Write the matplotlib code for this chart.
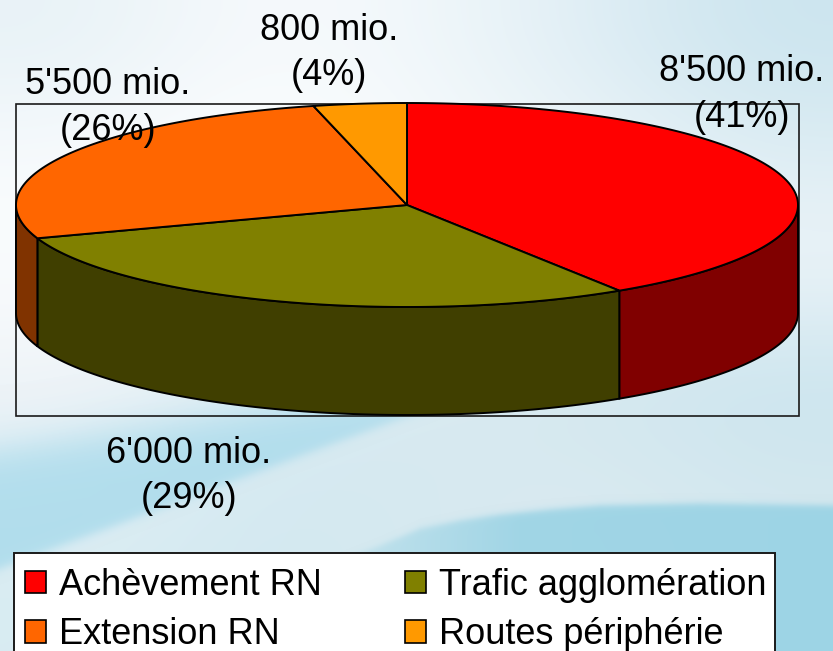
import numpy as np
import matplotlib
matplotlib.use("Agg")
import matplotlib.pyplot as plt
from matplotlib.colors import to_rgb
from matplotlib.patches import Polygon, Patch, Rectangle

plt.rcParams['font.family'] = ['Liberation Sans', 'DejaVu Sans']

categories = ["Achèvement RN", "Trafic agglomération", "Extension RN", "Routes périphérie"]
values = [8500, 6000, 5500, 800]
top_colors = ["#ff0000", "#808000", "#ff6600", "#ff9900"]
side_colors = ["#800000", "#403f00", "#803300", "#804d00"]
label_pos = [(742, 94.5), (189, 476), (108, 107.5), (329, 53)]

# coarse colour grid for the backdrop
bg_rows = [
    ["#e8f2f7", "#f7fafc", "#f2f8fb", "#e0eef5", "#cce5ef"],
    ["#f8fbfd", "#ffffff", "#f7fbfc", "#eff6f9", "#dfeef4"],
    ["#fafcfd", "#fbfdfe", "#f3f8fb", "#ecf4f8", "#edf4f8"],
    ["#f0f4f8", "#e0eef5", "#d8eaf1", "#d3e7ee", "#c9e4ee"],
    ["#e0eff5", "#d3e9f1", "#d6e9f0", "#dbebf1", "#d4e8ef"],
    ["#d8ecf2", "#d3e9f1", "#d6e9f0", "#dbebf1", "#d4e8ef"],
]

# pie geometry in pixels
cx, cy = 407, 205
rx, ry = 391, 102
depth = 108
fs = 26


def ellipse_pts(a0, a1, dy=0):
    # angles run clockwise from the top of the ellipse
    t = np.radians(np.linspace(a0, a1, 200))
    return np.column_stack([cx + rx * np.sin(t), cy - ry * np.cos(t) + dy])


def soft_layer(color, alpha):
    layer = np.zeros(alpha.shape + (4,))
    layer[..., :3] = to_rgb(color)
    layer[..., 3] = alpha
    return layer


total = sum(values)
starts = np.cumsum([0] + values[:-1]) / total * 360
ends = np.cumsum(values) / total * 360

fig = plt.figure(figsize=(8.33, 6.51), dpi=100)
ax = fig.add_axes([0, 0, 1, 1])

grid = np.array([[to_rgb(c) for c in row] for row in bg_rows])
ax.imshow(grid, extent=(0, 833, 651, 0), aspect='auto', interpolation='bicubic', zorder=0)

yy, xx = np.mgrid[0:651, 0:833]

# blue swoosh at the lower left
upper = 450 - xx * 0.15
line = 553 - (xx - 40) * 0.375
swoosh = (0.5 + 0.5 * np.tanh((yy - upper) / 24)) * (0.5 + 0.5 * np.tanh((line - yy) / 6))
ax.imshow(soft_layer("#addcec", swoosh * 0.9), extent=(0, 833, 651, 0), aspect='auto', zorder=0.1)

# lower band, its top edge is a shallow arc that fades out to the left
arc = np.interp(xx, [0, 300, 340, 380, 420, 460, 500, 550, 600, 700, 833],
                [660, 575, 560, 545, 528, 520, 514, 509, 505, 503, 505])
fade = np.clip((xx - 280) / 240, 0, 1) ** 0.8
band = (0.5 + 0.5 * np.tanh((yy - arc) / 4)) * fade * (0.85 + 0.15 * xx / 833)
ax.imshow(soft_layer("#9dd4e5", band), extent=(0, 833, 651, 0), aspect='auto', zorder=0.2)

ax.set_xlim(0, 833)
ax.set_ylim(651, 0)
ax.axis('off')

# plot area frame
ax.add_patch(Rectangle((16, 104), 783, 312, fill=False, ec='#1a1a1a', lw=1.2, zorder=1))

# front wall of the disc, only the part facing the viewer
for a0, a1, c in zip(starts, ends, side_colors):
    s0, s1 = max(a0, 90), min(a1, 270)
    if s1 <= s0:
        continue
    wall = np.vstack([ellipse_pts(s0, s1), ellipse_pts(s0, s1, depth)[::-1]])
    ax.add_patch(Polygon(wall, closed=True, fc=c, ec='black', lw=1.4, zorder=2))

# top face
for a0, a1, c in zip(starts, ends, top_colors):
    face = np.vstack([[cx, cy], ellipse_pts(a0, a1)])
    ax.add_patch(Polygon(face, closed=True, fc=c, ec='black', lw=1.4, zorder=3))

for v, (x, y) in zip(values, label_pos):
    txt = f"{v:,}".replace(",", "'") + " mio.\n" + f"({v / total * 100:.0f}%)"
    ax.text(x, y, txt, ha='center', va='center', fontsize=fs, color='black',
            linespacing=1.39, zorder=5)

# legend box runs off the bottom edge
ax.add_patch(Rectangle((14, 553), 761, 120, fc='white', ec='#1a1a1a', lw=1.4, zorder=6))
handles = [Patch(fc=c, ec='black', lw=1.2) for c in top_colors]
order = [0, 2, 1, 3]
leg = ax.legend([handles[i] for i in order], [categories[i] for i in order],
                ncol=2, loc='upper left', bbox_to_anchor=(14, 557),
                bbox_transform=ax.transData, fontsize=fs, frameon=False,
                borderaxespad=0, borderpad=0.3, handlelength=0.58, handleheight=0.58,
                handletextpad=0.36, columnspacing=2.3, labelspacing=0.4)
leg.set_zorder(7)

fig.savefig("out.png", dpi=100)
